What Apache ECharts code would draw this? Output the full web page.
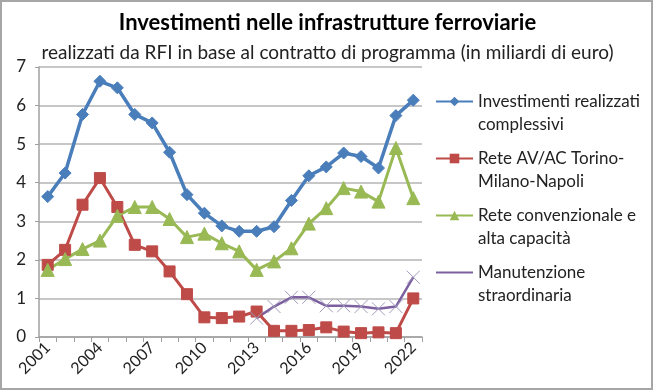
<!DOCTYPE html>
<html><head><meta charset="utf-8">
<script src="https://cdn.jsdelivr.net/npm/echarts@6/dist/echarts.min.js"></script>
<style>html,body{margin:0;padding:0;background:#fff}#c{width:655px;height:392px}</style>
</head><body><div id="c"></div>
<script>
const years = ['2001','2002','2003','2004','2005','2006','2007','2008','2009','2010','2011','2012','2013','2014','2015','2016','2017','2018','2019','2020','2021','2022'];
const investimenti = [3.64,4.25,5.77,6.63,6.46,5.77,5.55,4.79,3.69,3.21,2.88,2.74,2.74,2.86,3.54,4.18,4.41,4.77,4.68,4.38,5.74,6.14];
const reteAV = [1.87,2.26,3.43,4.12,3.37,2.39,2.22,1.70,1.11,0.51,0.49,0.53,0.66,0.16,0.16,0.18,0.25,0.14,0.10,0.12,0.10,1.00];
const reteConv = [1.74,2.02,2.28,2.50,3.14,3.37,3.37,3.06,2.59,2.68,2.43,2.22,1.74,1.96,2.30,2.94,3.34,3.86,3.77,3.51,4.90,3.60];
const manutenzione = [null,null,null,null,null,null,null,null,null,null,null,null,0.49,0.79,1.03,1.03,0.81,0.81,0.79,0.73,0.79,1.55];
const names = ['Investimenti realizzati\ncomplessivi','Rete AV/AC Torino-\nMilano-Napoli','Rete convenzionale e\nalta capacità','Manutenzione\nstraordinaria'];

const font = 'Lato';
const chart = echarts.init(document.getElementById('c'));
function mk(name, data, color, symbol, size, width, symColor) {
  return {name, type:'line', data, symbol, symbolSize:size, showSymbol:true, showAllSymbol:true,
    lineStyle:{color, width}, itemStyle:{color: symColor||color, borderColor: symColor||color},
    emphasis:{disabled:true}, animation:false, connectNulls:false};
}
chart.setOption({
  animation:false,
  backgroundColor:'#fff',
  title:[{text:'Investimenti nelle infrastrutture ferroviarie', left:'center', top:7,
    textStyle:{fontFamily:font, fontSize:22, fontWeight:'bold', color:'#000'}},
    {text:'realizzati da RFI in base al contratto di programma (in miliardi di euro)', left:'center', top:38,
    textStyle:{fontFamily:font, fontSize:19, fontWeight:'normal', color:'#222'}}],
  graphic:[{type:'rect', shape:{x:1,y:1,width:651,height:388}, style:{fill:'none', stroke:'#a6a6a6', lineWidth:2}, silent:true}],
  grid:{left:39, right:233, top:67, bottom:55, containLabel:false},
  legend:{orient:'vertical', left:430, top:62, height:340, itemGap:-12, itemWidth:37, itemHeight:12,
    data:names, selectedMode:false,
    formatter: n => '\n' + n,
    textStyle:{fontFamily:font, fontSize:17, color:'#222', lineHeight:23}},
  xAxis:{type:'category', data:years, boundaryGap:true,
    axisLine:{lineStyle:{color:'#a0a0a0', width:1.5}},
    axisTick:{show:true, length:5, interval:0, lineStyle:{color:'#a0a0a0'}},
    axisLabel:{interval:2, rotate:45, fontFamily:font, fontSize:16, color:'#222', margin:8}},
  yAxis:{type:'value', min:0, max:7, interval:1,
    axisLine:{show:true, lineStyle:{color:'#a0a0a0', width:1.5}},
    axisTick:{show:true, length:4, lineStyle:{color:'#a0a0a0'}},
    splitLine:{lineStyle:{color:'#b4b4b4', width:1.5}},
    axisLabel:{fontFamily:font, fontSize:17, color:'#222', margin:13}},
  series:[
    mk(names[0], investimenti, '#4a7ebb', 'diamond', 12, 3.5),
    mk(names[1], reteAV, '#be4b48', 'rect', 11, 3),
    mk(names[2], reteConv, '#98b954', 'triangle', 13, 3),
    mk(names[3], manutenzione, '#7d60a0', 'path://M0,0L10,10M10,0L0,10', 13, 2.5, '#a09cbc')
  ]
});
</script></body></html>
